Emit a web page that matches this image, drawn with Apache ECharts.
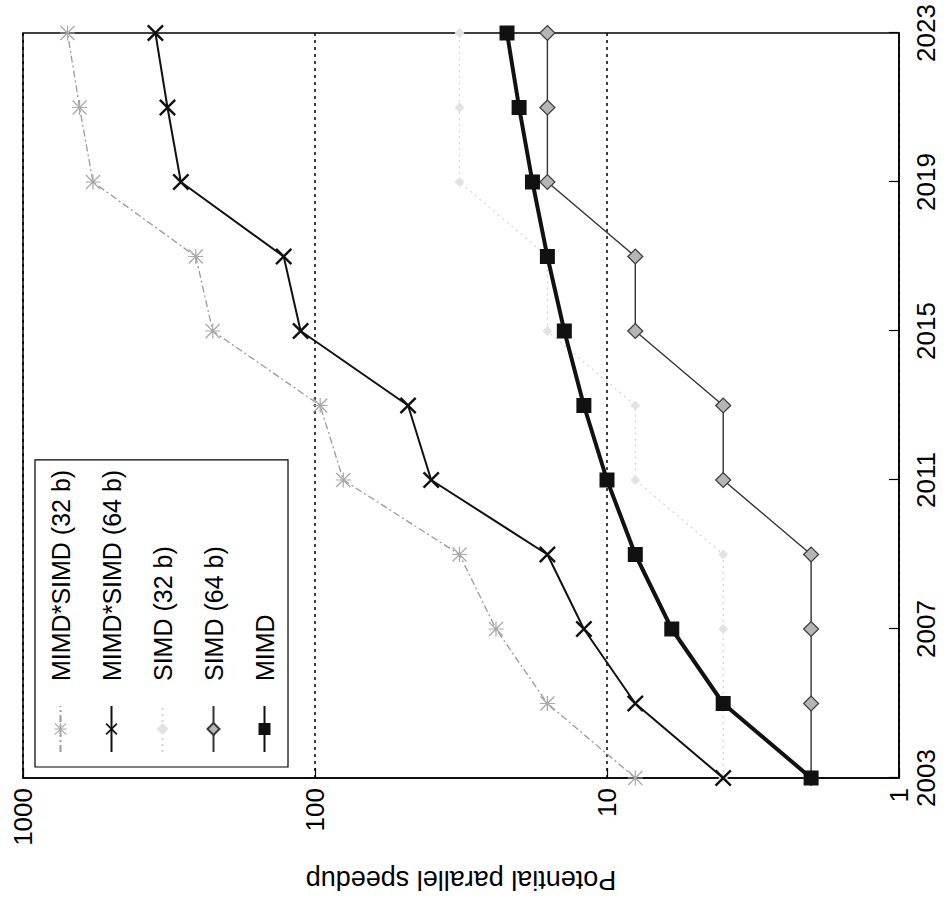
<!DOCTYPE html>
<html>
<head>
<meta charset="utf-8">
<title>Potential parallel speedup</title>
<script src="https://cdn.jsdelivr.net/npm/echarts@6/dist/echarts.min.js"></script>
<style>
  html, body { margin: 0; padding: 0; background: #fff; overflow: hidden; }
  body { width: 947px; height: 902px; position: relative; }
  /* the chart is drawn upright and then turned a quarter turn to the left, like the scan */
  #chart {
    position: absolute; left: 0; top: 0;
    width: 902px; height: 947px;
    transform-origin: 0 0;
    transform: translateY(902px) rotate(-90deg);
  }
</style>
</head>
<body>
<div id="chart"></div>
<script>
// data
var years = ['2003', '2005', '2007', '2009', '2011', '2013', '2015', '2017', '2019', '2021', '2023'];
var mimdSimd32 = [8, 16, 24, 32, 80, 96, 224, 256, 576, 640, 704];
var mimdSimd64 = [4, 8, 12, 16, 40, 48, 112, 128, 288, 320, 352];
var simd32 = [4, 4, 4, 4, 8, 8, 16, 16, 32, 32, 32];
var simd64 = [2, 2, 2, 2, 4, 4, 8, 8, 16, 16, 16];
var mimd = [2, 4, 6, 8, 10, 12, 14, 16, 18, 20, 22];
var names = ['MIMD*SIMD (32 b)', 'MIMD*SIMD (64 b)', 'SIMD (32 b)', 'SIMD (64 b)', 'MIMD'];

var font = '"Liberation Sans", Arial, Helvetica, sans-serif';

// marker shapes
var crossPath = 'path://M0,1L1,0L5,4L9,0L10,1L6,5L10,9L9,10L5,6L1,10L0,9L4,5Z';
var starPath = 'path://M4.6,0L5.4,0L5.4,10L4.6,10Z M0,4.6L10,4.6L10,5.4L0,5.4Z ' +
  'M0.6,0L10,9.4L9.4,10L0,0.6Z M9.4,0L10,0.6L0.6,10L0,9.4Z';

var chart = echarts.init(document.getElementById('chart'), null, { renderer: 'svg' });

var option = {
  animation: false,
  backgroundColor: '#fff',
  textStyle: { fontFamily: font, color: '#000' },
  grid: {
    left: 124, right: 33, top: 23, bottom: 48,
    show: true, borderColor: '#000', borderWidth: 1.5
  },
  legend: {
    data: names,
    orient: 'vertical',
    left: 135, top: 35,
    padding: [13, 10, 11, 14],
    itemWidth: 46, itemHeight: 15, itemGap: 26,
    backgroundColor: '#fff',
    borderColor: '#000', borderWidth: 1.2,
    textStyle: { fontSize: 25, fontFamily: font, color: '#000', padding: [0, 0, 0, 20] }
  },
  xAxis: {
    type: 'category',
    data: years,
    boundaryGap: false,
    axisLine: { show: true, lineStyle: { color: '#000', width: 1.5 } },
    axisTick: { show: true, inside: true, length: 10, interval: 1, lineStyle: { color: '#000', width: 1.2 } },
    axisLabel: { interval: 1, fontSize: 26, margin: 14, color: '#000', fontFamily: font },
    splitLine: { show: false }
  },
  yAxis: {
    type: 'log',
    logBase: 10,
    min: 1, max: 1000,
    name: 'Potential parallel speedup',
    nameLocation: 'middle',
    nameGap: 88,
    nameTextStyle: { fontSize: 27, color: '#000', fontFamily: font },
    axisLine: { show: true, lineStyle: { color: '#000', width: 1.5 } },
    axisTick: { show: true, inside: true, length: 10, lineStyle: { color: '#000', width: 1.2 } },
    axisLabel: {
      fontSize: 26, margin: 10, color: '#000', fontFamily: font,
      formatter: function (v) { return String(Math.round(v)); }
    },
    splitLine: { show: true, lineStyle: { type: [3, 4], color: '#000', width: 1.5 } }
  },
  series: [
    {
      name: names[0], type: 'line', data: mimdSimd32,
      symbol: starPath, symbolSize: 15, showAllSymbol: true, z: 2,
      lineStyle: { color: '#9a9a9a', width: 1.3, type: [7, 3, 2, 3] },
      itemStyle: { color: '#a8a8a8' },
      emphasis: { disabled: true }
    },
    {
      name: names[1], type: 'line', data: mimdSimd64,
      symbol: crossPath, symbolSize: 17, showAllSymbol: true, z: 3,
      lineStyle: { color: '#111', width: 2 },
      itemStyle: { color: '#111' },
      emphasis: { disabled: true }
    },
    {
      name: names[2], type: 'line', data: simd32,
      symbol: 'diamond', symbolSize: 10, showAllSymbol: true, z: 1,
      lineStyle: { color: '#d2d2d2', width: 1.2, type: [2, 4] },
      itemStyle: { color: '#e2e2e2' },
      emphasis: { disabled: true }
    },
    {
      name: names[3], type: 'line', data: simd64,
      symbol: 'diamond', symbolSize: 15, showAllSymbol: true, z: 4,
      lineStyle: { color: '#333', width: 1.4 },
      itemStyle: { color: '#b5b5b5', borderColor: '#3a3a3a', borderWidth: 1.2 },
      emphasis: { disabled: true }
    },
    {
      name: names[4], type: 'line', data: mimd,
      symbol: 'rect', symbolSize: 15, showAllSymbol: true, z: 5,
      lineStyle: { color: '#111', width: 4 },
      itemStyle: { color: '#111' },
      emphasis: { disabled: true }
    }
  ]
};

chart.setOption(option);
</script>
</body>
</html>
